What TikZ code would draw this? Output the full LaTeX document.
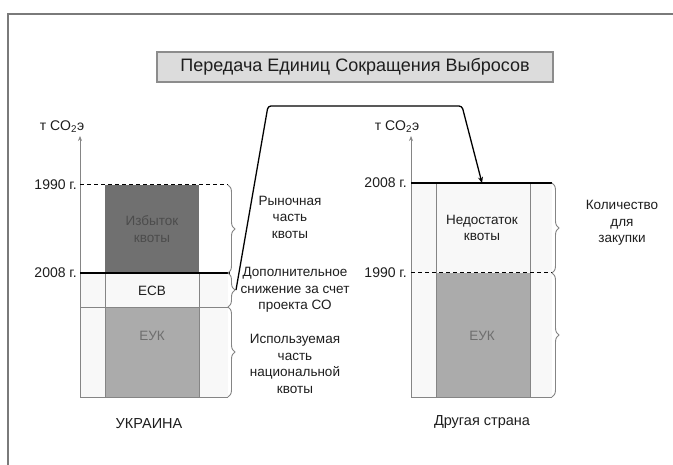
\documentclass[tikz,border=0pt]{standalone}
\usepackage{fontspec}
\setmainfont{Liberation Sans}
\usetikzlibrary{arrows.meta,decorations.pathreplacing}
\definecolor{frame}{HTML}{7A7A7A}
\definecolor{titlefill}{HTML}{DCDCDC}
\definecolor{titledraw}{HTML}{8C8C8C}
\definecolor{darkfill}{HTML}{707070}
\definecolor{darktext}{HTML}{4C4C4C}
\definecolor{midfill}{HTML}{ABABAB}
\definecolor{midtext}{HTML}{6E6E6E}
\definecolor{cellfill}{HTML}{F8F8F8}
\definecolor{txt}{HTML}{1E1E1E}
\definecolor{cellline}{HTML}{858585}
\tikzset{
  lbl/.style={text=txt,font=\fontsize{13.5}{16.5}\selectfont,align=center,inner sep=0pt},
  yearlbl/.style={text=txt,font=\fontsize{14}{16}\selectfont,anchor=east,inner sep=0pt},
  unitlbl/.style={text=txt,font=\fontsize{14}{16}\selectfont,inner sep=0pt},
  capt/.style={text=txt,font=\fontsize{14.5}{17}\selectfont,inner sep=0pt},
  brc/.style={decorate,decoration={brace,amplitude=7pt,aspect=0.5},draw=cellline,line width=0.9pt},
  axis/.style={draw=cellline,line width=0.9pt,-{Stealth[length=5pt,width=4pt]}},
  cellln/.style={draw=cellline,line width=0.9pt},
  levelln/.style={draw=black,line width=1.3pt},
  dashln/.style={draw=black,line width=1pt,dashed,dash pattern=on 4pt off 3pt},
  conn/.style={draw=black,line width=1.3pt,rounded corners=3pt}
}
\begin{document}
\begin{tikzpicture}[x=1pt,y=-1pt]
\useasboundingbox (0,0) rectangle (673,465);
\fill[white] (0,0) rectangle (673,465);
% frame
\draw[frame,line width=2pt] (8,465) -- (8,14) -- (673,14);
% title
\node[draw=titledraw,fill=titlefill,line width=1.3pt,minimum width=396pt,minimum height=30pt,inner sep=0pt,text=txt,font=\fontsize{18}{20}\selectfont] (title) at (355,67) {Передача Единиц Сокращения Выбросов};

% ===== left panel (Ukraine) =====
\fill[cellfill] (80,273) rectangle (228,397);
\fill[darkfill] (105,185) rectangle (199,273);
\fill[midfill] (105,307) rectangle (199,397);
\draw[cellln] (105,273) -- (105,397) (199,273) -- (199,397);
\draw[cellln] (80,307) -- (228,307);
\draw[cellln] (80,397) -- (228,397);
\draw[axis] (80,397) -- (80,136);
\draw[dashln] (80,185) -- (228,185);
\draw[levelln] (80,273) -- (230,273);
\draw[brc] (228,185) -- (228,273);
\draw[brc] (228,273) -- (228,307);
\draw[brc] (228,307) -- (228,397);
\coordinate (ecbtip) at (236,290);

\node[unitlbl] (lunit) at (62,127) {т CO\textsubscript{2}э};
\node[yearlbl] (l1990) at (77,185) {1990 г.};
\node[yearlbl] (l2008) at (77,273) {2008 г.};
\node[lbl,text=darktext] (surplus) at (152,229) {Избыток\\квоты};
\node[lbl] (ecb) at (152,291) {ЕСВ};
\node[lbl,text=midtext] (leuk) at (152,336) {ЕУК};
\node[capt] (ukr) at (149,424) {УКРАИНА};
\node[lbl] (market) at (290,217) {Рыночная\\часть\\квоты};
\node[lbl] (extra) at (295,290) {Дополнительное\\снижение за счет\\проекта СО};
\node[lbl] (used) at (295,364) {Используемая\\часть\\национальной\\квоты};

% ===== right panel (other country) =====
\fill[cellfill] (411,183) rectangle (552,397);
\fill[midfill] (436,273) rectangle (530,397);
\draw[cellln] (436,183) -- (436,397) (530,183) -- (530,397);
\draw[cellln] (411,397) -- (552,397);
\draw[axis] (411,397) -- (411,136);
\draw[levelln] (411,183) -- (552,183);
\draw[dashln] (411,273) -- (552,273);
\draw[brc] (552,183) -- (552,273);
\draw[brc] (552,273) -- (552,397);
\coordinate (r2008) at (482,183);

\node[unitlbl] (runit) at (397,127) {т CO\textsubscript{2}э};
\node[yearlbl] (r2008l) at (407,183) {2008 г.};
\node[yearlbl] (r1990l) at (407,273) {1990 г.};
\node[lbl] (deficit) at (482,228) {Недостаток\\квоты};
\node[lbl,text=midtext] (reuk) at (482,336) {ЕУК};
\node[capt] (other) at (482,422) {Другая страна};
\node[lbl] (purchase) at (622,223) {Количество\\для\\закупки};

% connector
\draw[conn,-{Stealth[length=6pt,width=5pt]}] (ecbtip) -- (268,106) -- (462,106) -- (r2008);
\end{tikzpicture}
\end{document}
